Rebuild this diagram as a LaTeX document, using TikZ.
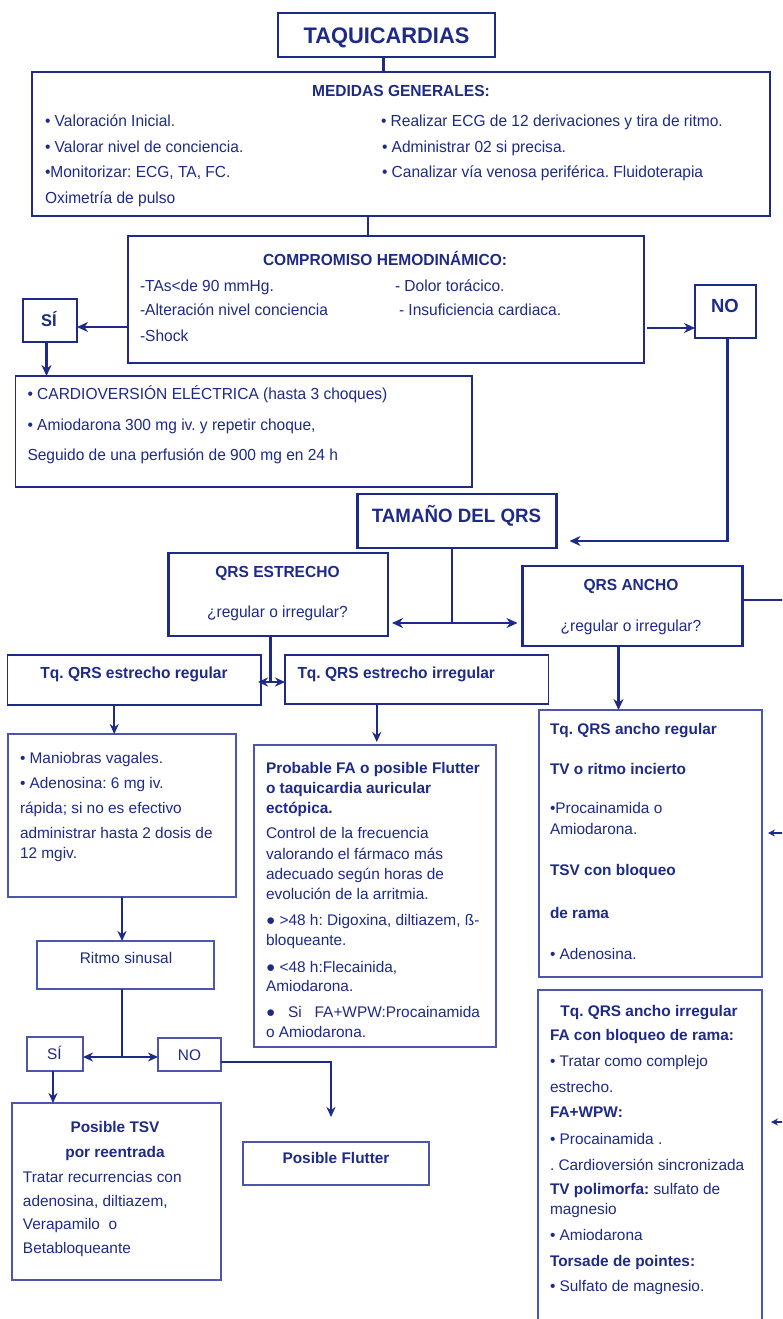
\documentclass[tikz,border=0pt]{standalone}
\usepackage{fontspec}
\setmainfont{Liberation Sans}
\newfontfamily\cond[FakeStretch=0.97]{Liberation Sans}
\usetikzlibrary{arrows.meta,fit}
\definecolor{navy}{RGB}{30,42,135}
\definecolor{lnavy}{RGB}{78,86,172}
\newcommand\cf[1]{\cond\fontsize{#1}{#1}\selectfont}
\newcommand\cbf[1]{\cond\bfseries\fontsize{#1}{#1}\selectfont}
\newcommand\pf[1]{\fontsize{#1}{#1}\selectfont}
\newcommand\pbf[1]{\bfseries\fontsize{#1}{#1}\selectfont}
\frenchspacing
\tikzset{
  bigbox/.style={draw=navy, line width=2.4pt, inner sep=0pt, outer sep=0pt},
  midbox/.style={draw=navy, line width=1.7pt, inner sep=0pt, outer sep=0pt},
  smbox/.style={draw=lnavy, line width=1.5pt, inner sep=0pt, outer sep=0pt},
  conn/.style={draw=navy, line width=2.6pt},
  thconn/.style={draw=navy, line width=2.1pt},
  arr/.style={conn, -{Stealth[length=11pt,width=10pt]}},
  tarr/.style={thconn, -{Stealth[length=10pt,width=9pt]}},
  dbl/.style={conn, {Stealth[length=11pt,width=10pt]}-{Stealth[length=11pt,width=10pt]}},
  tdbl/.style={thconn, {Stealth[length=10pt,width=9pt]}-{Stealth[length=10pt,width=9pt]}},
  smarr/.style={draw=navy, line width=1.8pt, -{Stealth[length=7pt,width=7pt]}},
  lbl/.style={text=navy, inner sep=0pt, outer sep=0pt, anchor=base west},
  clbl/.style={lbl, anchor=base},
}
\begin{document}
\begin{tikzpicture}[x=1pt,y=-1pt]
\useasboundingbox (0,0) rectangle (782,1319);
\clip (0,0) rectangle (782,1319);
\fill[white] (0,0) rectangle (782,1319);

% ---------- boxes ----------
\node[bigbox, fit={(278,13) (495,57)}] (taq) {};
\node[bigbox, fit={(32,72) (770,216)}] (med) {};
\node[bigbox, fit={(128,236) (644,363)}] (comp) {};
\node[bigbox, fit={(23,299) (77,342)}] (si) {};
\node[bigbox, fit={(695,285) (756,338)}] (no) {};
\node[midbox, fit={(15.5,376) (472,487)}] (card) {};
\node[bigbox, fit={(357.5,494) (556.5,548)}] (tam) {};
\node[bigbox, fit={(168.5,553) (388,636)}] (est) {};
\node[bigbox, fit={(522.5,566) (742.5,646)}] (anc) {};
\node[midbox, fit={(7.5,655) (261,705)}] (treg) {};
\node[midbox, fit={(285,655) (548.5,704)}] (tirr) {};
\node[smbox, fit={(8,734) (236,897)}] (man) {};
\node[smbox, fit={(37,941) (214,989)}] (rit) {};
\node[smbox, fit={(27,1037) (83,1071)}] (si2) {};
\node[smbox, fit={(158,1038) (221,1071)}] (no2) {};
\node[smbox, fit={(12,1103) (221,1280)}] (tsv) {};
\node[smbox, fit={(243,1142) (429,1185)}] (flu) {};
\node[smbox, fit={(254,745) (496,1047)}] (fa) {};
\node[smbox, fit={(539,710) (762,977)}] (areg) {};
\node[smbox, fit={(538,990) (762,1345)}] (airr) {};

% ---------- texts ----------
\node[clbl, font=\cbf{22.5}] (t1) at (386.5,44) {TAQUICARDIAS};

\node[clbl, font=\cbf{16}] (mg0) at (401,96.5) {MEDIDAS GENERALES:};
\node[lbl, font=\cf{16}] (mg1) at (45,126.5) {• Valoración Inicial.};
\node[lbl, font=\cf{16}] (mg2) at (45,152) {• Valorar nivel de conciencia.};
\node[lbl, font=\cf{16}] (mg3) at (45,177.5) {•Monitorizar: ECG, TA, FC.};
\node[lbl, font=\cf{16}] (mg4) at (45,203) {Oximetría de pulso};
\node[lbl, font=\cf{16}] (mg5) at (381,126.5) {• Realizar ECG de 12 derivaciones y tira de ritmo.};
\node[lbl, font=\cf{16}] (mg6) at (382,152) {• Administrar 02 si precisa.};
\node[lbl, font=\cf{16}] (mg7) at (382,177.5) {• Canalizar vía venosa periférica. Fluidoterapia};

\node[clbl, font=\cbf{16}] (cp0) at (385,265) {COMPROMISO HEMODINÁMICO:};
\node[lbl, font=\cf{16}] (cp1) at (140,291) {-TAs<de 90 mmHg.};
\node[lbl, font=\cf{16}] (cp2) at (140,315) {-Alteración nivel conciencia};
\node[lbl, font=\cf{16}] (cp3) at (140,341) {-Shock};
\node[lbl, font=\cf{16}] (cp4) at (395,291) {- Dolor torácico.};
\node[lbl, font=\cf{16}] (cp5) at (399,315) {- Insuficiencia cardiaca.};

\node[clbl, font=\cbf{17}] (sit) at (49,326) {SÍ};
\node[clbl, font=\cbf{19}] (not) at (725,312) {NO};

\node[lbl, font=\cf{16}] (cv1) at (27.5,399) {• CARDIOVERSIÓN ELÉCTRICA (hasta 3 choques)};
\node[lbl, font=\cf{16}] (cv2) at (27.5,430) {• Amiodarona 300 mg iv. y repetir choque,};
\node[lbl, font=\cf{16}] (cv3) at (27.5,460) {Seguido de una perfusión de 900 mg en 24 h};

\node[clbl, font=\cbf{19.3}] (tm) at (456.5,522) {TAMAÑO DEL QRS};
\node[clbl, font=\cbf{16}] (es1) at (277.5,577) {QRS ESTRECHO};
\node[clbl, font=\cf{16}] (es2) at (277.5,617) {¿regular o irregular?};
\node[clbl, font=\cbf{16}] (an1) at (631,590) {QRS ANCHO};
\node[clbl, font=\cf{16}] (an2) at (631,631) {¿regular o irregular?};
\node[clbl, font=\cbf{16}] (tr1) at (134,678) {Tq. QRS estrecho regular};
\node[lbl, font=\cbf{16}] (ti1) at (297.5,678) {Tq. QRS estrecho irregular};

\node[lbl, font=\pf{15.4}] (m1) at (20,763) {• Maniobras vagales.};
\node[lbl, font=\pf{15.4}] (m2) at (20,788) {• Adenosina: 6 mg iv.};
\node[lbl, font=\pf{15.4}] (m3) at (20,813) {rápida; si no es efectivo};
\node[lbl, font=\pf{15.4}] (m4) at (20,838) {administrar hasta 2 dosis de};
\node[lbl, font=\pf{15.4}] (m5) at (20,858) {12 mgiv.};

\node[clbl, font=\pf{15.4}] (r1) at (126,963) {Ritmo sinusal};
\node[clbl, font=\pf{15.4}] (s2t) at (54.5,1059) {SÍ};
\node[clbl, font=\pf{15.4}] (n2t) at (189.5,1060) {NO};

\node[clbl, font=\pbf{15.4}] (ts1) at (115,1132) {Posible TSV};
\node[clbl, font=\pbf{15.4}] (ts2) at (115,1157) {por reentrada};
\node[lbl, font=\pf{15.4}] (ts3) at (23,1182) {Tratar recurrencias con};
\node[lbl, font=\pf{15.4}] (ts4) at (23,1206) {adenosina, diltiazem,};
\node[lbl, font=\pf{15.4}] (ts5) at (23,1229) {Verapamilo\ \ o};
\node[lbl, font=\pf{15.4}] (ts6) at (23,1253) {Betabloqueante};

\node[clbl, font=\pbf{15.4}] (fl1) at (336,1163) {Posible Flutter};

\node[lbl, font=\pbf{15.4}] (f1) at (266,773) {Probable FA o posible Flutter};
\node[lbl, font=\pbf{15.4}] (f2) at (266,793) {o taquicardia auricular};
\node[lbl, font=\pbf{15.4}] (f3) at (266,813) {ectópica.};
\node[lbl, font=\pf{15.4}] (f4) at (266,838) {Control de la frecuencia};
\node[lbl, font=\pf{15.4}] (f5) at (266,859) {valorando el fármaco más};
\node[lbl, font=\pf{15.4}] (f6) at (266,879) {adecuado según horas de};
\node[lbl, font=\pf{15.4}] (f7) at (266,899) {evolución de la arritmia.};
\node[lbl, font=\pf{15.4}] (f8) at (266,925) {● >48 h: Digoxina, diltiazem, ß-};
\node[lbl, font=\pf{15.4}] (f9) at (266,945) {bloqueante.};
\node[lbl, font=\pf{15.4}] (f10) at (266,972) {● <48 h:Flecainida,};
\node[lbl, font=\pf{15.4}] (f11) at (266,991) {Amiodarona.};
\node[lbl, font=\pf{15.4}] (f12) at (266,1017) {●\ \ \ Si\ \ \ FA+WPW:Procainamida};
\node[lbl, font=\pf{15.4}] (f13) at (266,1037) {o Amiodarona.};

\node[lbl, font=\pbf{15.4}] (a1) at (550,734) {Tq. QRS ancho regular};
\node[lbl, font=\pbf{15.4}] (a2) at (550,774) {TV o ritmo incierto};
\node[lbl, font=\pf{15.4}] (a3) at (550,813.5) {•Procainamida o};
\node[lbl, font=\pf{15.4}] (a4) at (550,834.5) {Amiodarona.};
\node[lbl, font=\pbf{15.4}] (a5) at (550,875) {TSV con bloqueo};
\node[lbl, font=\pbf{15.4}] (a6) at (550,918) {de rama};
\node[lbl, font=\pf{15.4}] (a7) at (550,959) {• Adenosina.};

\node[clbl, font=\pbf{15.4}] (b1) at (649,1016.5) {Tq. QRS ancho irregular};
\node[lbl, font=\pbf{15.4}] (b2) at (550,1040.5) {FA con bloqueo de rama:};
\node[lbl, font=\pf{15.4}] (b3) at (550,1066.5) {• Tratar como complejo};
\node[lbl, font=\pf{15.4}] (b4) at (550,1092) {estrecho.};
\node[lbl, font=\pbf{15.4}] (b5) at (550,1117.5) {FA+WPW:};
\node[lbl, font=\pf{15.4}] (b6) at (550,1144) {• Procainamida .};
\node[lbl, font=\pf{15.4}] (b7) at (550,1170) {. Cardioversión sincronizada};
\node[lbl, font=\pf{15.4}] (b8) at (550,1194) {\textbf{TV polimorfa:} sulfato de};
\node[lbl, font=\pf{15.4}] (b9) at (550,1214) {magnesio};
\node[lbl, font=\pf{15.4}] (b10) at (550,1240) {• Amiodarona};
\node[lbl, font=\pbf{15.4}] (b11) at (550,1266) {Torsade de pointes:};
\node[lbl, font=\pf{15.4}] (b12) at (550,1291.5) {• Sulfato de magnesio.};

% ---------- free-end coordinates ----------
\coordinate (j1) at (452,623);
\coordinate (j2) at (270.5,682);
\coordinate (j3) at (122,1057);
\coordinate (rt1) at (784,600);
\coordinate (rt2) at (784,833);
\coordinate (rt3) at (784,1122);

% ---------- connectors ----------
\draw[conn] ([xshift=-3pt]taq.south) -- ([xshift=-3pt]taq.south |- med.north);
\draw[conn] ([xshift=-18pt]comp.north) -- ([xshift=-18pt]comp.north |- med.south);
\draw[arr] ([yshift=-27.5pt]comp.west) -- ([yshift=-27.5pt]comp.west -| si.east);
\draw[arr] ([yshift=-28.5pt,xshift=3pt]comp.east) -- ([yshift=-28.5pt]comp.east -| no.west);
\draw[arr] ([xshift=-3.5pt]si.south) -- ([xshift=-3.5pt]si.south |- card.north);
\draw[arr] ([xshift=2pt]no.south) |- ([xshift=13pt,yshift=-20pt]tam.east);
\draw[conn] ([xshift=-5pt]tam.south) -- (j1);
\draw[dbl] ([xshift=4pt]est.east |- j1) -- ([xshift=-5pt]anc.west |- j1);
\draw[conn] (anc.east |- rt1) -- (rt1);
\draw[conn] ([xshift=-7.75pt]est.south) -- (j2);
\draw[tdbl] ([xshift=-3pt]treg.east |- j2) -- (tirr.west |- j2);
\draw[arr] ([xshift=-14pt]anc.south) -- ([xshift=-14pt]anc.south |- areg.north);
\draw[tarr] ([xshift=-20pt]treg.south) -- ([xshift=-20pt]treg.south |- man.north);
\draw[tarr] ([xshift=-40pt]tirr.south) -- ([xshift=-40pt,yshift=3pt]tirr.south |- fa.north);
\draw[tarr] (man.south) -- (man.south |- rit.north);
\draw[thconn] ([xshift=-3.5pt]rit.south) -- (j3);
\draw[tdbl] (si2.east |- j3) -- (no2.west |- j3);
\draw[tarr, shorten >=25pt] ([yshift=-7.5pt]no2.east) -| ([xshift=-5pt]flu.north);
\draw[tarr] ([xshift=-2pt]si2.south) -- ([xshift=-2pt]si2.south |- tsv.north);
\draw[smarr] (rt2) -- ([xshift=6pt]areg.east |- rt2);
\draw[smarr] (rt3) -- ([xshift=9pt]airr.east |- rt3);
\end{tikzpicture}
\end{document}
